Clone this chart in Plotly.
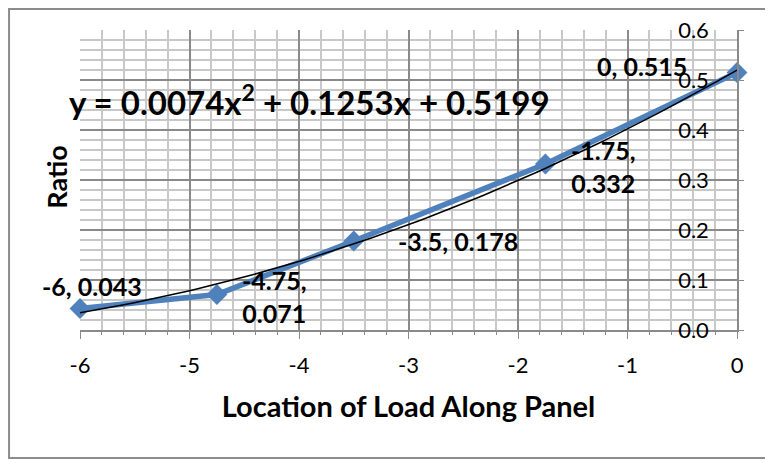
import numpy as np
import plotly.graph_objects as go

# Data points
location = [-6, -4.75, -3.5, -1.75, 0]
ratio = [0.043, 0.071, 0.178, 0.332, 0.515]
point_labels = ["-6, 0.043", "-4.75,<br>0.071", "-3.5, 0.178", "-1.75,<br>0.332", "0, 0.515"]

# Axis ticks
x_ticks = [-6, -5, -4, -3, -2, -1, 0]
x_tick_text = ["-6", "-5", "-4", "-3", "-2", "-1", "0"]

# Polynomial trendline coefficients (as shown on the chart)
coef = [0.0074, 0.1253, 0.5199]
equation = "y = 0.0074x<sup>2</sup> + 0.1253x + 0.5199"

x_fit = np.linspace(min(location), max(location), 100)
y_fit = np.polyval(coef, x_fit)

font = "Lato, 'Open Sans', sans-serif"
grid_dark = "#8a8a8a"
grid_light = "#c8c8c8"

# label offsets in pixels (dx, dy) relative to each point
label_shift = [(12, 23), (58, -2), (104, 0), (58, -2), (-95, 7)]

fig = go.Figure()

fig.add_trace(go.Scatter(
    x=location, y=ratio,
    mode="lines+markers",
    line=dict(color="#4F81BD", width=5.5),
    marker=dict(symbol="diamond", size=16, color="#4F81BD"),
    showlegend=False, cliponaxis=False,
))

fig.add_trace(go.Scatter(
    x=x_fit, y=y_fit,
    mode="lines",
    line=dict(color="black", width=1.5),
    showlegend=False,
))

for xv, yv, lab, (dx, dy) in zip(location, ratio, point_labels, label_shift):
    fig.add_annotation(
        x=xv, y=yv, xref="x", yref="y", text=lab, showarrow=False,
        xshift=dx, yshift=dy,
        font=dict(size=25, color="black", family=font, weight="bold"),
    )

fig.add_annotation(
    x=-0.02, y=0.46, xref="paper", yref="y",
    text=equation, showarrow=False, xanchor="left",
    font=dict(size=33, color="black", family=font, weight="bold"),
)

fig.add_annotation(
    x=-0.037, y=0.51, xref="paper", yref="paper",
    text="Ratio", textangle=-90, showarrow=False,
    xanchor="center", yanchor="middle",
    font=dict(size=27, color="black", family=font, weight="bold"),
)

# outer chart border
fig.add_shape(type="rect", xref="paper", yref="paper",
              x0=-0.108, x1=1.050, y0=-0.427, y1=1.07,
              line=dict(color="#8c8c8c", width=2))

fig.update_xaxes(
    range=[-6, 0], tickvals=x_ticks, ticktext=x_tick_text,
    showgrid=True, gridcolor=grid_dark, gridwidth=1.5,
    minor=dict(dtick=0.2, showgrid=True, gridcolor=grid_light, gridwidth=1.5,
               ticks="outside", ticklen=3, tickcolor=grid_dark),
    showline=True, linecolor=grid_dark, linewidth=1.5,
    ticks="outside", ticklen=7, tickcolor=grid_dark,
    zeroline=False, ticklabelstandoff=8,
    tickfont=dict(size=22, family=font, color="black"),
    title=dict(text="Location of Load Along Panel", standoff=20,
               font=dict(size=29, family=font, color="black", weight="bold")),
)

fig.update_yaxes(
    range=[0, 0.6], dtick=0.1, tickformat=".1f",
    side="right", ticklabelposition="outside", ticklabelstandoff=-70,
    showgrid=True, gridcolor=grid_dark, gridwidth=1.5,
    minor=dict(dtick=0.02, showgrid=True, gridcolor=grid_light, gridwidth=1.5),
    showline=True, linecolor=grid_dark, linewidth=1.5,
    ticks="outside", ticklen=5, tickcolor=grid_dark,
    zeroline=False,
    tickfont=dict(size=22, family=font, color="black"),
)

fig.update_layout(
    width=765, height=455,
    margin=dict(l=72, r=36, t=22, b=133, autoexpand=False),
    plot_bgcolor="white", paper_bgcolor="white",
)

fig.write_html("out.html")
